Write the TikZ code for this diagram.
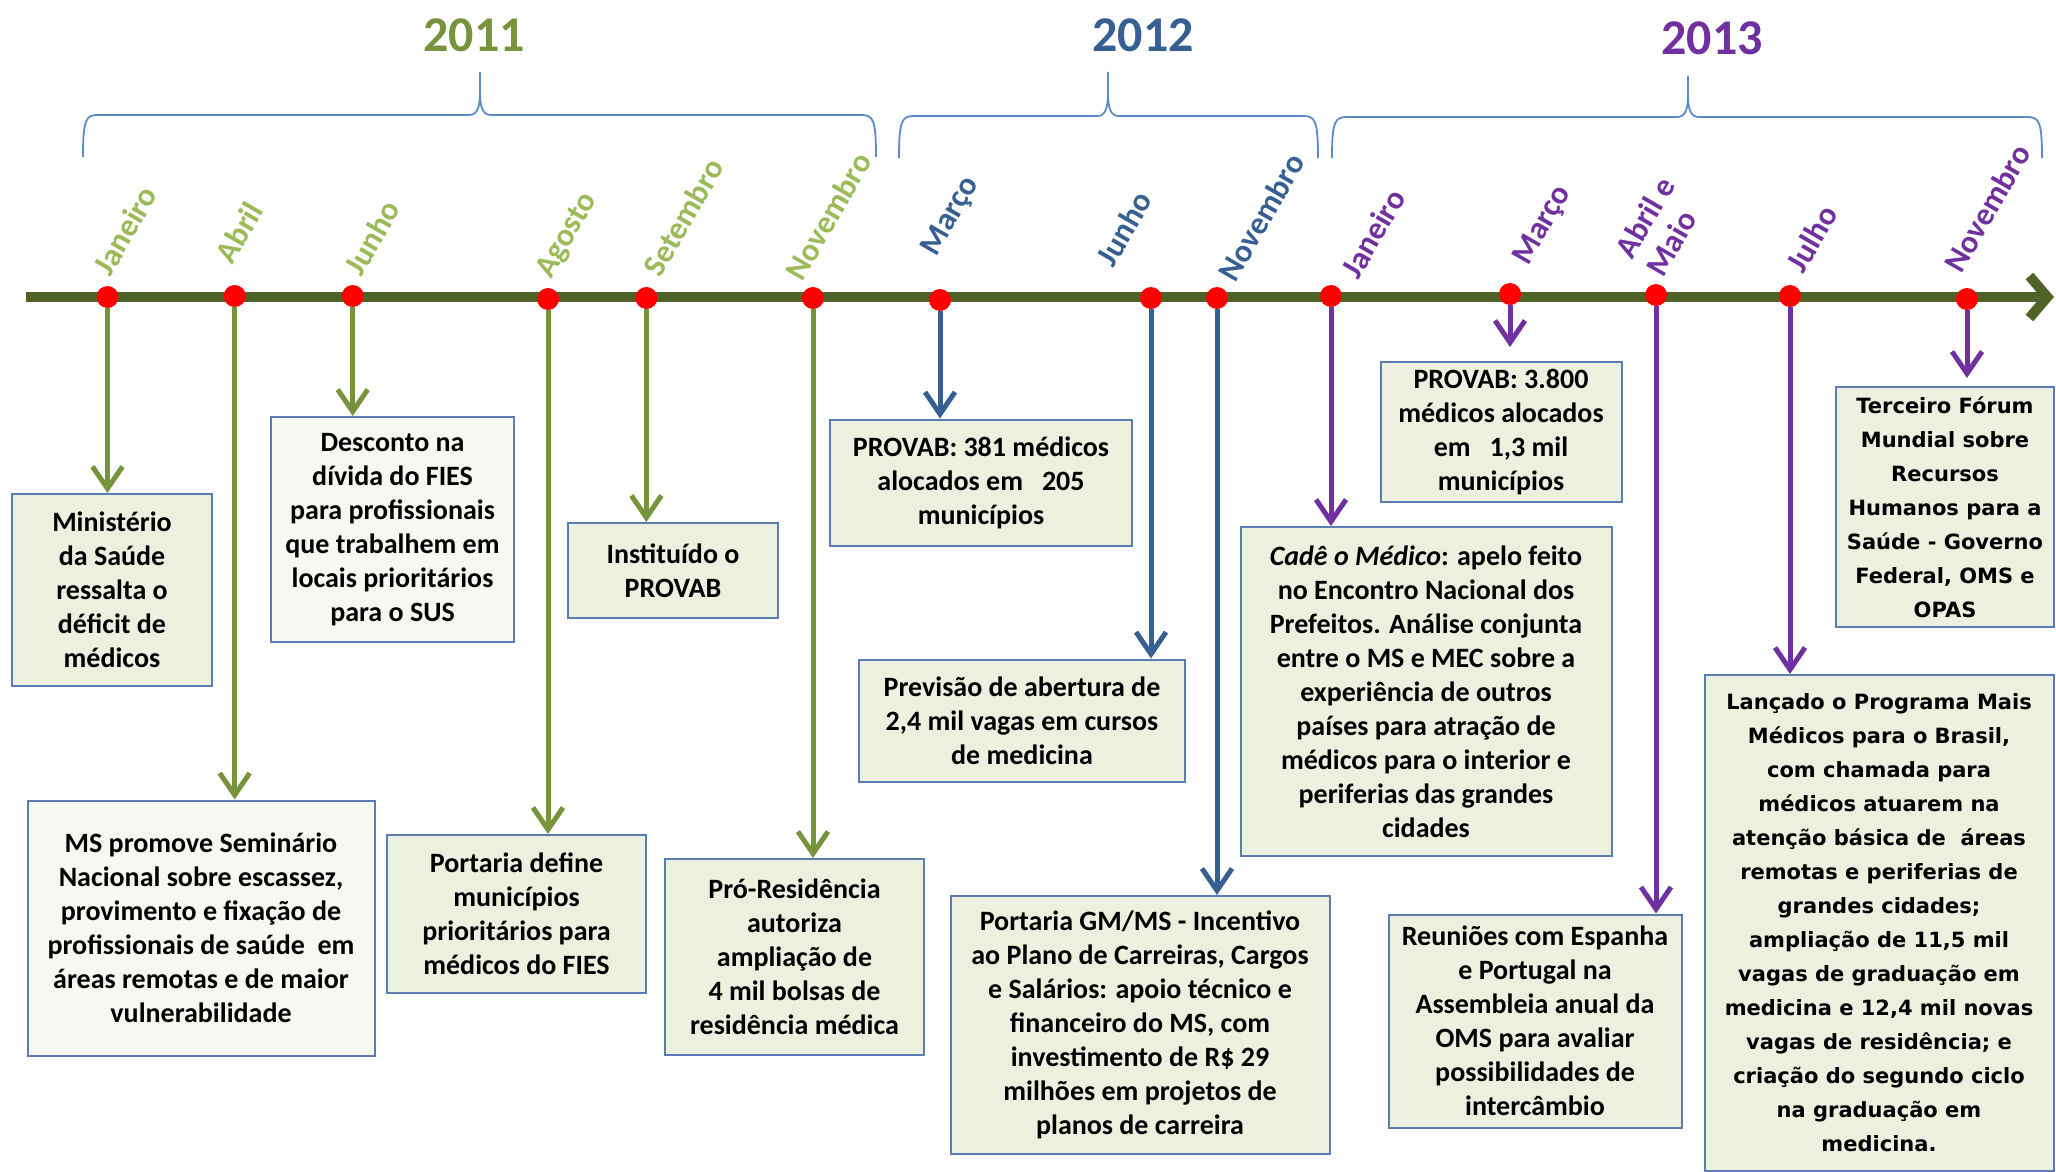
\documentclass[tikz,border=0pt]{standalone}
\usepackage{fontspec}
\setmainfont{Carlito}
\newfontfamily\dvs{DejaVu Sans}
\usetikzlibrary{arrows.meta}
\definecolor{tlc}{HTML}{4F6228}
\definecolor{ga}{HTML}{77933C}
\definecolor{gl}{HTML}{9BBB59}
\definecolor{ba}{HTML}{376092}
\definecolor{pa}{HTML}{7030A0}
\definecolor{bfill}{HTML}{EBF1DE}
\definecolor{wfill}{HTML}{F6F8F1}
\definecolor{bord}{HTML}{5A7DB5}
\definecolor{brc}{HTML}{5B8BC9}
\begin{document}
\begin{tikzpicture}[x=1pt,y=-1pt,
 box/.style={draw=bord, line width=2pt, fill=bfill, align=center, inner sep=0pt, font=\bfseries\fontsize{28}{34}\selectfont},
 vbox/.style={box, font=\dvs\bfseries\fontsize{21}{34}\selectfont},
 mon/.style={rotate=60, anchor=south west, inner sep=0pt, align=left, font=\bfseries\fontsize{32}{36}\selectfont},
 yr/.style={inner sep=0pt, font=\bfseries\fontsize{50}{50}\selectfont},
 dotn/.style={circle, fill=red, minimum size=22pt, inner sep=0pt},
 arr/.style={line width=5pt, -{Straight Barb[length=22pt,width=30pt]}},
 brace/.style={draw=brc, line width=1.8pt},
]
\fill[white] (0,0) rectangle (2056,1172);
\useasboundingbox (0,0) rectangle (2056,1172);
\clip (0,0) rectangle (2056,1172);

% years
\node[yr, text=ga] (y1) at (474,35) {2011};
\node[yr, text=ba] (y2) at (1143,35) {2012};
\node[yr, text=pa] (y3) at (1712,38) {2013};

% braces
\draw[brace] (83,157) .. controls (83,119) and (86,115) .. (98,115) -- (469,115) .. controls (477,115) and (480,108) .. (480,92) -- (480,72);
\draw[brace] (480,92) .. controls (480,108) and (483,115) .. (491,115) -- (861,115) .. controls (873,115) and (876,119) .. (876,157);
\draw[brace] (899,158) .. controls (899,120) and (902,116) .. (914,116) -- (1097,116) .. controls (1105,116) and (1108,109) .. (1108,93) -- (1108,72);
\draw[brace] (1108,93) .. controls (1108,109) and (1111,116) .. (1119,116) -- (1303,116) .. controls (1315,116) and (1318,120) .. (1318,158);
\draw[brace] (1332,158) .. controls (1332,121) and (1335,117) .. (1347,117) -- (1677,117) .. controls (1685,117) and (1688,110) .. (1688,95) -- (1688,76);
\draw[brace] (1688,95) .. controls (1688,110) and (1691,117) .. (1699,117) -- (2027,117) .. controls (2039,117) and (2042,121) .. (2042,158);

% timeline
\coordinate (ts) at (26,297);
\coordinate (te) at (2054,297);
\draw[tlc, line width=10pt, -{Straight Barb[length=18pt,width=42pt]}] (ts) -- (te);

% month labels
\node[mon, text=gl] (m1) at (111,278) {Janeiro};
\node[mon, text=gl] (m2) at (233,266) {Abril};
\node[mon, text=gl] (m3) at (362,278) {Junho};
\node[mon, text=gl] (m4) at (556,282) {Agosto};
\node[mon, text=gl] (m5) at (661,279) {Setembro};
\node[mon, text=gl] (m6) at (803,283) {Novembro};
\node[mon, text=ba] (m7) at (941,260) {Março};
\node[mon, text=ba] (m8) at (1114,269) {Junho};
\node[mon, text=ba] (m9) at (1236,284) {Novembro};
\node[mon, text=pa] (m10) at (1359,281) {Janeiro};
\node[mon, text=pa] (m11) at (1533,269) {Março};
\node[mon, text=pa] (m12) at (1664,279) {Abril e\\Maio};
\node[mon, text=pa] (m13) at (1804,275) {Julho};
\node[mon, text=pa] (m14) at (1962,275) {Novembro};

% boxes
\node[box, minimum width=200pt, minimum height=192pt] (b1) at (112,590)
 {Ministério\\da Saúde\\ressalta o\\déficit de\\médicos};
\node[box, fill=wfill, minimum width=243pt, minimum height=225pt] (b2) at (392.5,529.5)
 {Desconto na\\dívida do FIES\\para profissionais\\que trabalhem em\\locais prioritários\\para o SUS};
\node[box, minimum width=210pt, minimum height=95pt] (b3) at (673,570.5)
 {Instituído o\\PROVAB};
\node[box, fill=wfill, minimum width=347pt, minimum height=255pt] (b4) at (201,928)
 {MS promove Seminário\\Nacional sobre escassez,\\provimento e fixação de\\profissionais de saúde\ \ em\\áreas remotas e de maior\\vulnerabilidade};
\node[box, minimum width=259pt, minimum height=158pt] (b5) at (516.5,914)
 {Portaria define\\municípios\\prioritários para\\médicos do FIES};
\node[box, minimum width=259pt, minimum height=196pt] (b6) at (794.5,957)
 {Pró-Residência\\autoriza\\ampliação de\\4 mil bolsas de\\residência médica};
\node[box, minimum width=302pt, minimum height=126pt] (b7) at (981,482.5)
 {PROVAB: 381 médicos\\alocados em\ \ \ 205\\municípios};
\node[box, minimum width=326pt, minimum height=122pt] (b8) at (1022,720.5)
 {Previsão de abertura de\\2,4 mil vagas em cursos\\de medicina};
\node[box, minimum width=379pt, minimum height=258pt] (b9) at (1140,1025)
 {Portaria GM/MS - Incentivo\\ao Plano de Carreiras, Cargos\\e Salários: apoio técnico e\\financeiro do MS, com\\investimento de R\$ 29\\milhões em projetos de\\planos de carreira};
\node[box, minimum width=371pt, minimum height=329pt] (b10) at (1426,691.5)
 {\textit{Cadê o Médico}: apelo feito\\no Encontro Nacional dos\\Prefeitos. Análise conjunta\\entre o MS e MEC sobre a\\experiência de outros\\países para atração de\\médicos para o interior e\\periferias das grandes\\cidades};
\node[box, minimum width=241pt, minimum height=140pt] (b11) at (1501,432)
 {PROVAB: 3.800\\médicos alocados\\em\ \ \ 1,3 mil\\municípios};
\node[box, minimum width=293pt, minimum height=213pt] (b12) at (1535,1021)
 {Reuniões com Espanha\\e Portugal na\\Assembleia anual da\\OMS para avaliar\\possibilidades de\\intercâmbio};
\node[vbox, minimum width=218pt, minimum height=240pt] (b13) at (1945,507)
 {Terceiro Fórum\\Mundial sobre\\Recursos\\Humanos para a\\Saúde - Governo\\Federal, OMS e\\OPAS};
\node[vbox, minimum width=349pt, minimum height=496pt] (b14) at (1879,923)
 {Lançado o Programa Mais\\Médicos para o Brasil,\\com chamada para\\médicos atuarem na\\atenção básica de\ \ áreas\\remotas e periferias de\\grandes cidades;\\ampliação de 11,5 mil\\vagas de graduação em\\medicina e 12,4 mil novas\\vagas de residência; e\\criação do segundo ciclo\\na graduação em\\medicina.};

% dots
\node[dotn] (d1) at (107.5,297) {};
\node[dotn] (d2) at (234.7,296) {};
\node[dotn] (d3) at (352.7,296) {};
\node[dotn] (d4) at (548,299) {};
\node[dotn] (d5) at (646.4,298) {};
\node[dotn] (d6) at (813,298) {};
\node[dotn] (d7) at (940,300) {};
\node[dotn] (d8) at (1151,298) {};
\node[dotn] (d9) at (1217,298) {};
\node[dotn] (d10) at (1331,296) {};
\node[dotn] (d11) at (1510,294) {};
\node[dotn] (d12) at (1656,295) {};
\node[dotn] (d13) at (1790,296) {};
\node[dotn] (d14) at (1967,299) {};

% arrows
\draw[arr, ga] (d1) -- (d1 |- b1.north);
\draw[arr, ga] (d2) -- (d2 |- b4.north);
\draw[arr, ga] (d3) -- (d3 |- b2.north);
\draw[arr, ga] (d4) -- (d4 |- b5.north);
\draw[arr, ga] (d5) -- (d5 |- b3.north);
\draw[arr, ga] (d6) -- (d6 |- b6.north);
\draw[arr, ba] (d7) -- (d7 |- b7.north);
\draw[arr, ba] (d8) -- (d8 |- b8.north);
\draw[arr, ba] (d9) -- (d9 |- b9.north);
\draw[arr, pa] (d10) -- (d10 |- b10.north);
\draw[arr, pa, shorten >=14pt] (d11) -- (d11 |- b11.north);
\draw[arr, pa] (d12) -- (d12 |- b12.north);
\draw[arr, pa] (d13) -- (d13 |- b14.north);
\draw[arr, pa, shorten >=8pt] (d14) -- (d14 |- b13.north);
\end{tikzpicture}
\end{document}
